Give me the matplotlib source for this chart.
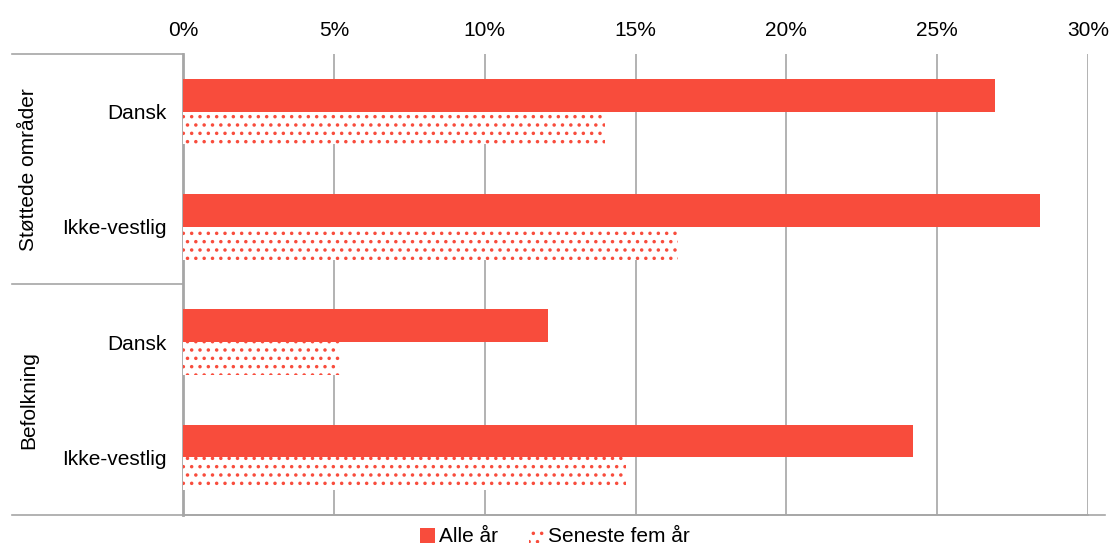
import matplotlib.pyplot as plt
import numpy as np
from matplotlib.patches import Patch
from matplotlib.lines import Line2D

plt.rcParams['font.family'] = ['Liberation Sans', 'DejaVu Sans']
plt.rcParams['hatch.linewidth'] = 1.3

groups = ['Støttede områder', 'Befolkning']
categories = ['Dansk', 'Ikke-vestlig', 'Dansk', 'Ikke-vestlig']
alle_aar = [26.9, 28.4, 12.1, 24.2]
seneste = [14.0, 16.4, 5.2, 14.7]
xticks = [0, 5, 10, 15, 20, 25, 30]

red = '#F84C3C'
grid = '#A6A6A6'

fig = plt.figure(figsize=(11.1, 5.45), dpi=100)
ax = fig.add_axes([0.1649, 0.055, 0.8153, 0.846])

y = np.arange(len(categories))
h = 0.285
ax.barh(y - h/2, alle_aar, height=h, color=red, zorder=3)
ax.barh(y + h/2, seneste, height=h, facecolor='white', edgecolor=red,
        hatch='..', linewidth=0, zorder=3)

ax.set_xlim(0, 30)
ax.set_ylim(3.5, -0.5)
ax.set_xticks(xticks)
ax.set_xticklabels([f'{t}%' for t in xticks], fontsize=15)
ax.xaxis.tick_top()
ax.tick_params(axis='x', length=0, pad=10)
ax.set_yticks(y)
ax.set_yticklabels(categories, fontsize=15)
ax.tick_params(axis='y', length=0, pad=12)
ax.grid(axis='x', color=grid, lw=1.2, zorder=0)

for s in ['top', 'right']:
    ax.spines[s].set_visible(False)
ax.spines['left'].set_color(grid)
ax.spines['left'].set_linewidth(2)
ax.spines['bottom'].set_color(grid)
ax.spines['bottom'].set_linewidth(1.2)

# group separators on the left
x0 = 12 / 1110
xl = 0.1649
for yy in [0.901, (0.901 + 0.055) / 2, 0.055]:
    fig.add_artist(Line2D([x0, xl], [yy, yy], color=grid, lw=1.2,
                          transform=fig.transFigure))
fig.add_artist(Line2D([xl, 1105 / 1110], [0.055, 0.055], color=grid, lw=1.2,
                      transform=fig.transFigure))
fig.text(29 / 1110, 1 - 170 / 545, groups[0], rotation=90, fontsize=15,
         ha='center', va='center')
fig.text(29 / 1110, 1 - 400 / 545, groups[1], rotation=90, fontsize=15,
         ha='center', va='center')

handles = [Patch(facecolor=red, label='Alle år'),
           Patch(facecolor='white', edgecolor=red, hatch='..', linewidth=0,
                 label='Seneste fem år')]
fig.legend(handles=handles, loc='center', bbox_to_anchor=(0.5, 1 - 537 / 545),
           ncol=2, frameon=False, fontsize=15, handlelength=0.7,
           handleheight=0.7, handletextpad=0.2, columnspacing=1.5)

fig.savefig('out.png', dpi=100)
